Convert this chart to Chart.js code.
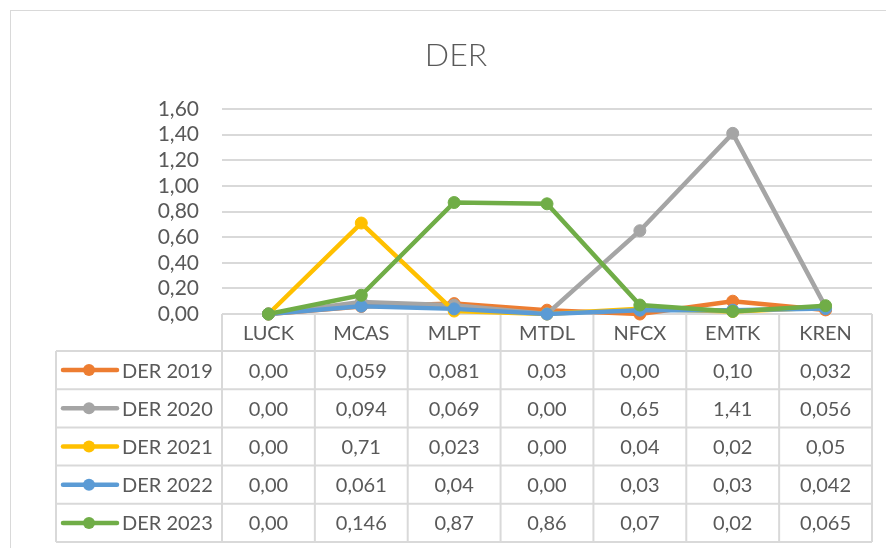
<!DOCTYPE html>
<html>
<head>
<meta charset="utf-8">
<script src="https://cdn.jsdelivr.net/npm/chart.js@4/dist/chart.umd.min.js"></script>
<style>
  html, body { margin: 0; padding: 0; background: #ffffff; }
  canvas { display: block; }
</style>
</head>
<body>
<canvas id="c" width="886" height="548"></canvas>
<script>
const chartTitle = 'DER';
const categories = ['LUCK', 'MCAS', 'MLPT', 'MTDL', 'NFCX', 'EMTK', 'KREN'];
const seriesNames = ['DER 2019', 'DER 2020', 'DER 2021', 'DER 2022', 'DER 2023'];
const der2019 = ['0,00', '0,059', '0,081', '0,03', '0,00', '0,10', '0,032'];
const der2020 = ['0,00', '0,094', '0,069', '0,00', '0,65', '1,41', '0,056'];
const der2021 = ['0,00', '0,71', '0,023', '0,00', '0,04', '0,02', '0,05'];
const der2022 = ['0,00', '0,061', '0,04', '0,00', '0,03', '0,03', '0,042'];
const der2023 = ['0,00', '0,146', '0,87', '0,86', '0,07', '0,02', '0,065'];
const yMin = 0, yMax = 1.6, yStep = 0.2;

const seriesLabels = [der2019, der2020, der2021, der2022, der2023];
const colors = ['#ED7D31', '#A5A5A5', '#FFC000', '#5B9BD5', '#70AD47'];
const toNum = s => parseFloat(s.replace(',', '.'));

const FONT = 'Lato, "Open Sans", "DejaVu Sans", sans-serif';
const TXT = '#595959';
const GRID = '#D9D9D9';

const tablePlugin = {
  id: 'tablePlugin',
  beforeDraw(chart) {
    const ctx = chart.ctx;
    ctx.save();
    ctx.strokeStyle = GRID;
    ctx.lineWidth = 1;
    ctx.strokeRect(10.5, 10.5, 1000, 1000);
    ctx.fillStyle = TXT;
    ctx.font = '300 32px ' + FONT;
    ctx.textAlign = 'center';
    ctx.textBaseline = 'alphabetic';
    ctx.fillText(chartTitle, 456, 66);
    ctx.restore();
  },
  beforeDatasetsDraw(chart) {
    const ctx = chart.ctx;
    const x = chart.scales.x;
    const area = chart.chartArea;
    const n = categories.length;
    const colW = (area.right - area.left) / n;
    const top = area.bottom;
    const headerH = 37;
    const rowH = 38.2;
    const legLeft = 56;
    const bottom = top + headerH + rowH * seriesNames.length;
    ctx.save();
    ctx.strokeStyle = GRID;
    ctx.lineWidth = 2;
    ctx.beginPath();
    ctx.moveTo(area.left, top); ctx.lineTo(area.right, top);
    for (let r = 0; r <= seriesNames.length; r++) {
      const y = top + headerH + r * rowH;
      ctx.moveTo(legLeft, y); ctx.lineTo(area.right, y);
    }
    for (let c = 0; c <= n; c++) {
      const xx = c === n ? area.right : x.getPixelForValue(c) - colW / 2;
      ctx.moveTo(xx, top); ctx.lineTo(xx, bottom);
    }
    ctx.moveTo(legLeft, top + headerH); ctx.lineTo(legLeft, bottom);
    ctx.stroke();

    ctx.fillStyle = TXT;
    ctx.font = '20px ' + FONT;
    ctx.textBaseline = 'alphabetic';
    ctx.textAlign = 'center';
    categories.forEach((cat, i) => {
      ctx.fillText(cat, x.getPixelForValue(i), top + headerH / 2 + 7.5);
    });
    seriesNames.forEach((name, r) => {
      const cy = top + headerH + r * rowH + rowH / 2;
      ctx.textAlign = 'center';
      seriesLabels[r].forEach((v, i) => {
        ctx.fillText(v, x.getPixelForValue(i), cy + 7.5);
      });
      ctx.strokeStyle = colors[r];
      ctx.lineWidth = 4.5;
      ctx.lineCap = 'round';
      ctx.beginPath();
      ctx.moveTo(63, cy); ctx.lineTo(117, cy);
      ctx.stroke();
      ctx.fillStyle = colors[r];
      ctx.beginPath();
      ctx.arc(89, cy, 6, 0, Math.PI * 2);
      ctx.fill();
      ctx.fillStyle = TXT;
      ctx.textAlign = 'left';
      ctx.fillText(name, 122, cy + 7.5);
    });
    ctx.restore();
  }
};

const datasets = seriesNames.map((name, i) => ({
  label: name,
  data: seriesLabels[i].map(toNum),
  borderColor: colors[i],
  backgroundColor: colors[i],
  pointBackgroundColor: colors[i],
  pointBorderColor: colors[i],
  borderWidth: 4.5,
  pointRadius: 6,
  pointBorderWidth: 1,
  tension: 0,
  clip: false,
  order: seriesNames.length - i
}));

new Chart(document.getElementById('c'), {
  type: 'line',
  data: { labels: categories, datasets },
  plugins: [tablePlugin],
  options: {
    responsive: false,
    animation: false,
    devicePixelRatio: 1,
    layout: { padding: { top: 109, right: 14, bottom: 234, left: 0 } },
    plugins: { legend: { display: false }, title: { display: false }, tooltip: { enabled: false } },
    scales: {
      x: { type: 'category', display: false, offset: true },
      y: {
        min: yMin, max: yMax,
        afterFit(scale) { scale.width = 222; },
        border: { display: false },
        grid: { color: GRID, lineWidth: 2, drawTicks: false },
        ticks: {
          stepSize: yStep,
          autoSkip: false,
          padding: 23,
          color: TXT,
          font: { family: FONT, size: 21 },
          callback: v => v.toFixed(2).replace('.', ',')
        }
      }
    }
  }
});
</script>
</body>
</html>
